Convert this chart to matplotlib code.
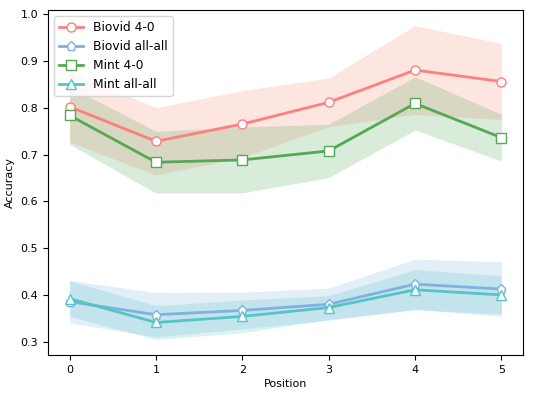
import matplotlib
matplotlib.use('Agg')
import matplotlib.pyplot as plt
import numpy as np

plt.rcParams['font.size'] = 8

positions = [0, 1, 2, 3, 4, 5]

biovid_40 = [0.8025, 0.7286, 0.7655, 0.812, 0.881, 0.8565]
biovid_40_std = [0.0755, 0.072, 0.0715, 0.052, 0.095, 0.0815]

biovid_all = [0.3855, 0.3576, 0.3667, 0.380, 0.423, 0.4124]
biovid_all_std = [0.0455, 0.0475, 0.039, 0.0345, 0.0535, 0.0585]

mint_40 = [0.784, 0.6838, 0.6888, 0.708, 0.8096, 0.7364]
mint_40_std = [0.062, 0.066, 0.0705, 0.057, 0.057, 0.05]

mint_all = [0.392, 0.341, 0.354, 0.373, 0.411, 0.400]
mint_all_std = [0.038, 0.036, 0.035, 0.0255, 0.043, 0.041]

# name, mean, std, line colour, fill colour, marker
series = [
    ("Biovid 4-0", biovid_40, biovid_40_std, '#ff7f7f', '#f98a74', 'o'),
    ("Biovid all-all", biovid_all, biovid_all_std, '#7fb2e0', '#7fb2e0', 'p'),
    ("Mint 4-0", mint_40, mint_40_std, '#55a855', '#55a855', 's'),
    ("Mint all-all", mint_all, mint_all_std, '#55c4c4', '#55c4c4', '^'),
]

fig, ax = plt.subplots(figsize=(5.42, 3.93), dpi=100)
fig.subplots_adjust(left=0.0886, right=0.965, bottom=0.0967, top=0.9746)

for name, mean, std, color, fcolor, marker in series:
    m = np.array(mean)
    s = np.array(std)
    ax.fill_between(positions, m - s, m + s, color=fcolor, alpha=0.22, linewidth=0)
    ax.plot(positions, m, color=color, marker=marker, markersize=6.5, linewidth=2,
            markerfacecolor='white', markeredgecolor=color, markeredgewidth=1.0, label=name)

ax.set_xticks(positions)
ax.set_xlabel('Position', labelpad=3)
ax.set_ylabel('Accuracy')
ax.legend(loc='upper left', fontsize=8.8)

plt.savefig('out.png', dpi=100)
